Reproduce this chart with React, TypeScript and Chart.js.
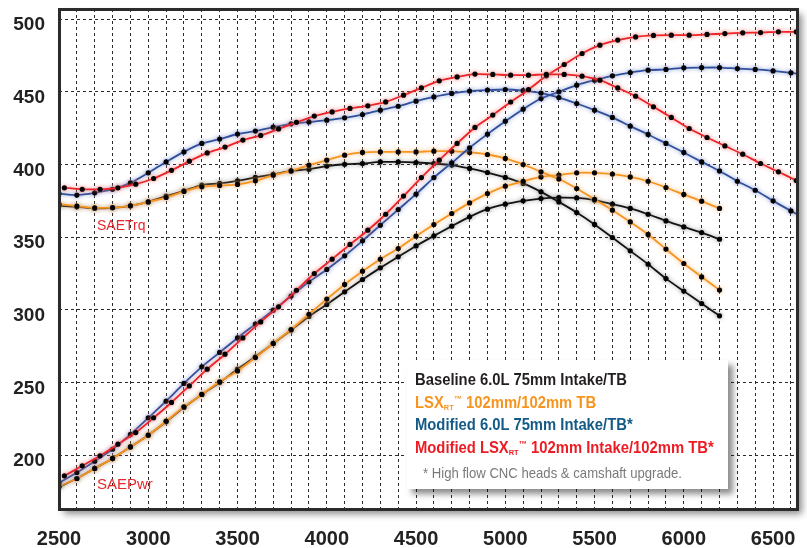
import React, { useEffect, useRef } from 'react';
import { Chart, registerables } from 'chart.js';

Chart.register(...registerables);

// ---- data ----
const rpm = [2500, 2600, 2700, 2800, 2900, 3000, 3100, 3200, 3300, 3400, 3500, 3600, 3700, 3800, 3900, 4000, 4100, 4200, 4300, 4400, 4500, 4600, 4700, 4800, 4900, 5000, 5100, 5200, 5300, 5400, 5500, 5600, 5700, 5800, 5900, 6000, 6100, 6200, 6300, 6400, 6500, 6600, 6700];
const redRpm = [2530, 2630, 2730, 2830, 2930, 3030, 3130, 3230, 3330, 3430, 3530, 3630, 3730, 3830, 3930, 4030, 4130, 4230, 4330, 4430, 4530, 4630, 4730, 4830, 4930, 5030, 5130, 5230, 5330, 5430, 5530, 5630, 5730, 5830, 5930, 6030, 6130, 6230, 6330, 6430, 6530, 6630, 6730];

const baselineTorque = [371.6, 370.9, 369.8, 370.2, 371.6, 374.3, 378.2, 381.9, 385.8, 387.0, 388.8, 391.1, 393.2, 395.6, 396.8, 398.9, 400.2, 400.7, 401.8, 401.8, 401.4, 400.7, 399.6, 397.3, 394.5, 391.1, 387.0, 381.2, 374.3, 367.0, 358.8, 349.8, 340.6, 331.4, 321.5, 312.9, 304.4, 295.9];
const baselinePower = [178.2, 184.0, 190.9, 197.8, 205.7, 213.8, 223.0, 232.9, 241.8, 250.0, 259.2, 267.7, 276.9, 286.0, 295.5, 303.7, 312.4, 320.9, 328.9, 336.5, 344.0, 350.9, 357.6, 364.0, 369.3, 372.7, 375.0, 376.6, 377.2, 377.0, 375.5, 372.7, 369.8, 365.8, 361.2, 357.1, 353.2, 348.6];

const lsxTorque = [372.7, 371.4, 370.2, 370.4, 371.6, 374.3, 377.3, 381.5, 384.7, 385.5, 386.3, 388.8, 392.7, 395.6, 399.6, 403.0, 406.4, 408.3, 408.7, 408.7, 408.7, 409.2, 409.2, 408.3, 406.9, 404.2, 400.0, 395.0, 390.0, 383.5, 376.0, 368.6, 360.5, 351.9, 341.8, 331.9, 322.7, 313.6];
const lsxPower = [178.5, 184.0, 190.9, 197.8, 205.7, 213.8, 223.4, 233.3, 241.8, 250.5, 258.0, 267.2, 276.9, 286.5, 297.0, 307.4, 317.5, 326.6, 334.9, 342.2, 350.7, 358.7, 366.3, 373.6, 380.0, 385.1, 388.5, 391.5, 392.7, 394.3, 394.3, 393.4, 391.5, 388.5, 384.2, 379.4, 374.8, 369.8];

const mod60Torque = [380.0, 379.0, 380.5, 383.0, 387.4, 394.3, 401.8, 408.7, 414.5, 417.5, 421.0, 423.0, 425.7, 428.0, 429.3, 430.5, 432.1, 434.4, 437.4, 440.1, 443.6, 446.5, 448.9, 450.5, 451.2, 451.6, 450.8, 449.2, 446.1, 442.0, 437.4, 432.4, 426.4, 420.7, 414.5, 408.3, 401.8, 395.6, 388.5, 382.3, 375.0, 368.1, 361.5];
const mod60Power = [181.0, 188.1, 195.9, 204.1, 214.3, 225.7, 237.2, 249.4, 260.8, 270.7, 280.7, 290.2, 299.8, 309.5, 319.3, 327.8, 337.2, 347.5, 358.3, 369.0, 379.6, 391.0, 401.1, 411.5, 420.9, 429.8, 438.1, 445.4, 450.0, 454.6, 458.0, 461.0, 463.3, 464.9, 465.4, 466.5, 466.7, 466.7, 466.0, 465.4, 464.4, 463.1, 461.5];

const modLsxTorque = [384.0, 383.0, 383.0, 384.0, 386.5, 390.4, 396.0, 402.3, 408.0, 412.0, 416.8, 420.0, 424.5, 429.0, 433.3, 436.2, 438.6, 440.4, 443.1, 447.7, 452.7, 457.6, 460.3, 462.2, 462.0, 461.5, 461.5, 462.0, 462.0, 460.8, 458.0, 452.7, 447.0, 439.7, 432.4, 424.8, 418.6, 412.8, 407.1, 400.7, 395.0, 389.0, 383.0];
const modLsxPower = [185.8, 192.7, 199.6, 207.6, 215.6, 225.7, 236.3, 247.7, 259.2, 269.5, 280.7, 291.7, 302.1, 313.5, 325.0, 334.9, 345.0, 354.8, 365.8, 378.3, 391.0, 403.0, 414.5, 425.5, 434.0, 443.0, 451.5, 461.0, 468.8, 476.4, 482.1, 485.6, 487.8, 488.8, 489.0, 489.0, 489.5, 490.1, 490.6, 490.8, 491.3, 491.3, 491.3];

const xLabels = [2500, 3000, 3500, 4000, 4500, 5000, 5500, 6000, 6500];
const yTicks = [200, 250, 300, 350, 400, 450, 500];

const legendLines = [
  { text: 'Baseline 6.0L 75mm Intake/TB', color: '#231f20', lsx: false, pre: '' },
  { text: ' 102mm/102mm TB', color: '#f7941d', lsx: true, pre: '' },
  { text: 'Modified 6.0L 75mm Intake/TB*', color: '#135a86', lsx: false, pre: '' },
  { text: ' 102mm Intake/102mm TB*', color: '#ed1c24', lsx: true, pre: 'Modified ' },
];
const footnote = '* High flow CNC heads & camshaft upgrade.';

const pts = (xs: number[], ys: number[]) => ys.map((y, i) => ({ x: xs[i], y }));

const COLORS = {
  black: '#141414',
  orange: '#f7941d',
  blue: '#2e4e9c',
  red: '#ec2227',
};
const GLOW = {
  black: 'rgba(90,90,90,0.55)',
  orange: 'rgba(250,180,110,0.8)',
  blue: 'rgba(120,140,205,0.8)',
  red: 'rgba(245,120,120,0.8)',
};

const framePlugin = {
  id: 'frame',
  beforeDraw(chart: any) {
    const { ctx, chartArea } = chart;
    const { left, top, right, bottom } = chartArea;
    ctx.save();
    ctx.shadowColor = 'rgba(0,0,0,0.45)';
    ctx.shadowBlur = 7;
    ctx.shadowOffsetX = 5;
    ctx.shadowOffsetY = 5;
    ctx.fillStyle = '#ffffff';
    ctx.fillRect(left, top, right - left, bottom - top);
    ctx.restore();
  },
  beforeDatasetDraw(chart: any, args: any) {
    const ds: any = chart.data.datasets[args.index];
    const ctx = chart.ctx;
    ctx.save();
    ctx.shadowColor = ds.glowColor;
    ctx.shadowBlur = 4;
  },
  afterDatasetDraw(chart: any) {
    chart.ctx.restore();
  },
  afterDraw(chart: any) {
    const { ctx, chartArea } = chart;
    const { left, top, right, bottom } = chartArea;
    ctx.save();
    ctx.strokeStyle = '#2b2b2b';
    ctx.lineWidth = 3;
    ctx.strokeRect(left + 0.5, top + 0.5, right - left, bottom - top);
    ctx.restore();
  },
};

function mkDs(label: string, data: any[], key: 'black' | 'orange' | 'blue' | 'red') {
  return {
    label,
    data,
    borderColor: COLORS[key],
    glowColor: GLOW[key],
    borderWidth: 1.8,
    pointRadius: 2.6,
    pointStyle: 'circle',
    pointBackgroundColor: '#000',
    pointBorderColor: '#000',
    pointBorderWidth: 0,
    tension: 0.25,
    fill: false,
  };
}

const SANS = '"Liberation Sans", Arial, sans-serif';

export default function App() {
  const ref = useRef<HTMLCanvasElement | null>(null);

  useEffect(() => {
    if (!ref.current) return;
    const chart = new Chart(ref.current, {
      type: 'line',
      data: {
        datasets: [
          mkDs('Modified LSX Trq', pts(redRpm, modLsxTorque), 'red'),
          mkDs('Modified LSX Pwr', pts(redRpm, modLsxPower), 'red'),
          mkDs('Modified 6.0L Trq', pts(rpm, mod60Torque), 'blue'),
          mkDs('Modified 6.0L Pwr', pts(rpm, mod60Power), 'blue'),
          mkDs('LSX Trq', pts(rpm, lsxTorque), 'orange'),
          mkDs('LSX Pwr', pts(rpm, lsxPower), 'orange'),
          mkDs('Baseline Trq', pts(rpm, baselineTorque), 'black'),
          mkDs('Baseline Pwr', pts(rpm, baselinePower), 'black'),
        ] as any,
      },
      options: {
        animation: false,
        responsive: false,
        maintainAspectRatio: false,
        devicePixelRatio: 1,
        layout: { padding: { top: 9, right: 10, left: 0, bottom: 0 } },
        plugins: {
          legend: { display: false },
          tooltip: { enabled: false },
        },
        scales: {
          x: {
            type: 'linear',
            min: 2500,
            max: 6634,
            afterFit: (s: any) => {
              s.height = 39;
              s.paddingLeft = 0;
              s.paddingRight = 0;
            },
            ticks: {
              stepSize: 100,
              includeBounds: false,
              autoSkip: false,
              maxRotation: 0,
              padding: 18,
              color: '#222',
              font: { family: SANS, size: 20, weight: 'bold' },
              callback: (v: any) => (xLabels.includes(Number(v)) ? String(v) : ''),
            },
            grid: { color: '#2a2a2a', lineWidth: 1, drawTicks: false },
            border: { display: false, dash: [3, 3] },
          },
          y: {
            type: 'linear',
            min: 163,
            max: 507,
            afterBuildTicks: (s: any) => {
              s.ticks = yTicks.map((v) => ({ value: v }));
            },
            afterFit: (s: any) => {
              s.width = 59;
              s.paddingTop = 0;
              s.paddingBottom = 0;
            },
            ticks: {
              padding: 14,
              labelOffset: 6,
              color: '#222',
              font: { family: SANS, size: 19, weight: 'bold' },
            },
            grid: { color: '#2a2a2a', lineWidth: 1, drawTicks: false },
            border: { display: false, dash: [3, 3] },
          },
        },
      } as any,
      plugins: [framePlugin],
    });
    return () => chart.destroy();
  }, []);

  const lineTops = [9.3, 31.7, 54.1, 76.5];

  return (
    <div style={{ position: 'absolute', left: 0, top: 0, width: 807, height: 548, background: '#fff' }}>
      <canvas ref={ref} width={807} height={548} style={{ display: 'block', width: 807, height: 548 }} />
      <div
        style={{
          position: 'absolute',
          left: 97,
          top: 217,
          color: '#e8262a',
          font: `14px ${SANS}`,
          whiteSpace: 'nowrap',
        }}
      >
        SAETrq
      </div>
      <div
        style={{
          position: 'absolute',
          left: 97,
          top: 475,
          color: '#e8262a',
          font: `15px ${SANS}`,
          whiteSpace: 'nowrap',
        }}
      >
        SAEPwr
      </div>
      <div
        style={{
          position: 'absolute',
          left: 407,
          top: 360,
          width: 321,
          height: 129,
          background: '#fff',
          boxShadow: '5px 5px 6px rgba(0,0,0,0.45)',
          fontFamily: SANS,
          whiteSpace: 'nowrap',
        }}
      >
        {legendLines.map((l, i) => (
          <div
            key={i}
            style={{
              position: 'absolute',
              left: 8,
              top: lineTops[i],
              height: 22.4,
              color: l.color,
              fontWeight: 'bold',
              fontSize: 16,
              lineHeight: '22.4px',
              transform: 'scaleX(0.925)',
              transformOrigin: '0 0',
            }}
          >
            {l.lsx ? (
              <>
                {l.pre}LSX
                <span style={{ fontSize: 8, verticalAlign: -2, lineHeight: 0 }}>RT</span>
                <span style={{ fontSize: 9, verticalAlign: 6, lineHeight: 0 }}>™</span>
                {l.text}
              </>
            ) : (
              l.text
            )}
          </div>
        ))}
        <div
          style={{
            position: 'absolute',
            left: 16,
            top: 101.5,
            height: 22,
            color: '#7a7a7a',
            fontSize: 15,
            lineHeight: '22px',
            transform: 'scaleX(0.875)',
            transformOrigin: '0 0',
          }}
        >
          {footnote}
        </div>
      </div>
    </div>
  );
}
